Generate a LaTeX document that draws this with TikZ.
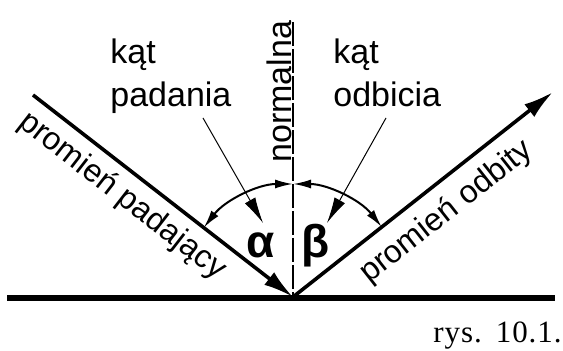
\documentclass[tikz,border=0pt]{standalone}
\usepackage{fontspec}
\setmainfont{Liberation Serif}
\setsansfont{Liberation Sans}
\newfontfamily\rysfont[LetterSpace=3]{Liberation Serif}
\usetikzlibrary{arrows.meta,calc}

\begin{document}
\begin{tikzpicture}[x=0.5pt,y=-0.5pt,
  ray/.style={line width=1.8pt},
  arcline/.style={line width=1pt,{Latex[length=9pt,width=4.5pt]}-{Latex[length=9pt,width=4.5pt]}},
  leader/.style={line width=0.5pt,-{Latex[length=13pt,width=6pt]}},
  lbl/.style={font=\sffamily\fontsize{17}{21.5}\selectfont,inner sep=0pt},
  raylbl/.style={font=\sffamily\fontsize{16}{19}\selectfont,inner sep=0pt,anchor=base},
  greek/.style={font=\sffamily\bfseries\fontsize{23}{27}\selectfont,inner sep=0pt}]

\useasboundingbox (0,0) rectangle (563,351);

% Surface and normal
\coordinate (O) at (293,297);
\coordinate (sL) at (7,298);
\coordinate (sR) at (555,298);
\coordinate (nTop) at (293,22);
\draw[line width=3pt] (sL) -- (sR);
\draw[line width=0.6pt,dash pattern=on 12pt off 1.5pt] (nTop) -- (O);
\node[lbl,rotate=90,anchor=base west] (nl) at (291,163) {normalna};

% Rays
\coordinate (A) at (33,95);
\coordinate (B) at (553,92);
\draw[ray,-{Latex[length=15pt,width=8pt]}] (A) -- (O);
\draw[ray,-{Latex[length=15pt,width=8pt]}] (O) -- (B);
\node[raylbl,rotate=-37.85] (tp) at (117,203) {promień padający};
\node[raylbl,rotate=38.25] (to) at (452,219) {promień odbity};

% Angles
\coordinate (aL) at ($(O)+(-142.15:113)$);
\coordinate (aR) at ($(O)+(-38.25:113)$);
\draw[arcline] (aL) arc[start angle=-142.15,end angle=-90,radius=113];
\draw[arcline] (aR) arc[start angle=-38.25,end angle=-90,radius=113];
\node[greek] (al) at (261,245) {α};
\node[greek] (be) at (316,246) {β};

% Labels with leaders
\node[lbl,align=left,anchor=north west] (kp) at (110,38) {kąt\\padania};
\node[lbl,align=left,anchor=north west] (ko) at (333,38) {kąt\\odbicia};
\coordinate (lA) at (203,118);
\coordinate (tA) at (263,223);
\coordinate (lB) at (386,118);
\coordinate (tB) at (327,223);
\draw[leader] (lA) -- (tA);
\draw[leader] (lB) -- (tB);

% Caption
\node[font=\rysfont\fontsize{15.5}{18}\selectfont,anchor=base east,inner sep=0pt] (rys) at (562,343) {rys.\hspace{7pt}10.1.};

\end{tikzpicture}
\end{document}
